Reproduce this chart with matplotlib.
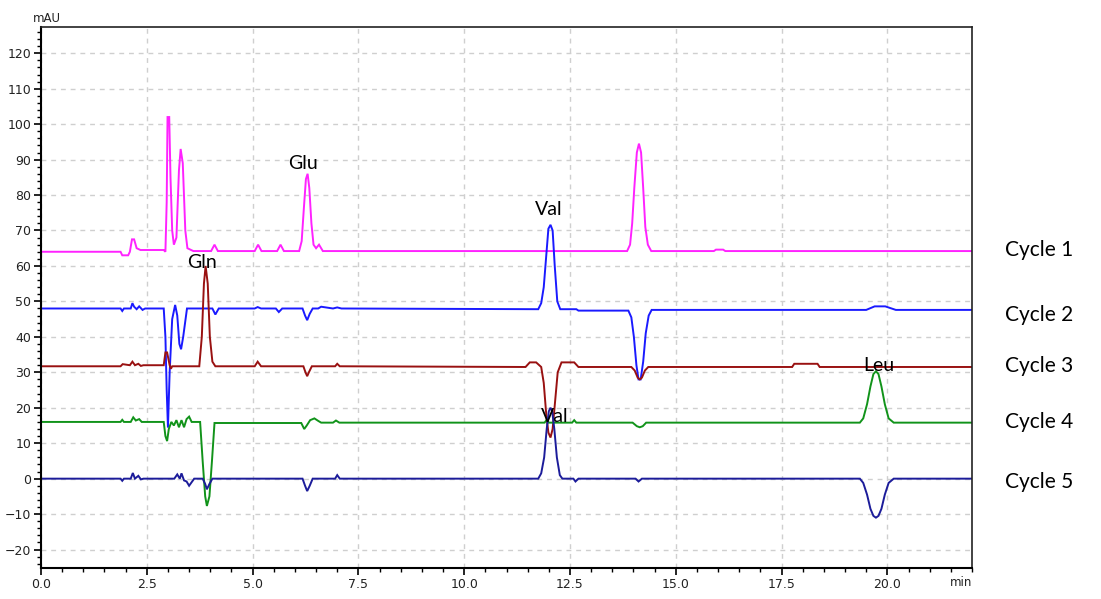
import numpy as np
import matplotlib
matplotlib.use("Agg")
import matplotlib.pyplot as plt
from matplotlib.ticker import MultipleLocator, FormatStrFormatter, FuncFormatter

# ---- data: chromatogram vertices (time in min, signal in mAU) ----
cycle1_t = [0, 1.88, 1.92, 2.06, 2.1, 2.15, 2.2, 2.26, 2.35, 2.9, 2.94, 2.97, 2.99, 3.03, 3.06, 3.1, 3.14,
            3.2, 3.26, 3.3, 3.35, 3.41, 3.46, 3.6, 4.02, 4.1, 4.18, 5.05, 5.13, 5.21, 5.58, 5.66, 5.74,
            6.1, 6.16, 6.21, 6.26, 6.3, 6.34, 6.39, 6.44, 6.5, 6.57, 6.66,
            13.85, 13.92, 13.97, 14.02, 14.08, 14.13, 14.18, 14.23, 14.28, 14.34, 14.42,
            15.9, 15.95, 16.12, 16.17, 22]
cycle1_v = [64, 64, 63, 63, 64, 67.5, 67.5, 65, 64.5, 64.5, 64, 78, 102, 102, 85, 70, 66,
            68, 87, 93, 89, 70, 65, 64.2, 64.2, 66, 64.2, 64.2, 66, 64.2, 64.2, 66, 64.2,
            64.2, 67, 76, 84.5, 86, 82, 72, 66, 65, 66, 64.2,
            64.2, 66, 72, 82, 92, 94.5, 92, 82, 71, 66, 64.2,
            64.2, 64.6, 64.6, 64.2, 64.2]

cycle2_t = [0, 1.88, 1.92, 1.96, 2.12, 2.16, 2.2, 2.26, 2.32, 2.4, 2.46, 2.9, 2.94, 2.97, 3.0, 3.04,
            3.1, 3.17, 3.22, 3.27, 3.31, 3.36, 3.45, 3.6, 4.05, 4.12, 4.2, 5.05, 5.12, 5.2, 5.55, 5.62,
            5.7, 6.18, 6.24, 6.29, 6.35, 6.42, 6.55, 6.62, 6.9, 7.0, 7.1,
            11.75, 11.82, 11.88, 11.94, 11.99, 12.04, 12.09, 12.14, 12.2, 12.27,
            12.65, 12.7, 13.88, 13.95, 14.01, 14.07, 14.12, 14.17, 14.23, 14.29, 14.36, 14.43, 19.5,
            19.7, 19.95, 20.2, 22]
cycle2_v = [48, 48, 47.3, 48, 48, 49.5, 48.5, 47.8, 48.6, 47.6, 48, 48, 40, 25, 14.4, 30,
            45, 49, 46, 38, 36.5, 40, 48, 48, 48, 46.3, 48, 48, 48.4, 48, 48, 47,
            48, 48, 46, 44.7, 46.5, 48, 48, 48.5, 48, 48.3, 48,
            47.8, 49.5, 54, 63, 70.5, 71.6, 70, 60, 50, 47.8,
            47.8, 47.4, 47.4, 45.5, 40, 32, 28, 28, 33, 41, 46, 47.6, 47.6,
            48.6, 48.6, 47.6, 47.6]

cycle3_t = [0, 1.88, 1.93, 2.1, 2.16, 2.22, 2.3, 2.36, 2.42, 2.9, 2.94, 2.98, 3.04, 3.07, 3.1, 3.74,
            3.8, 3.85, 3.89, 3.94, 3.99, 4.05, 4.12, 5.05, 5.12, 5.2, 6.2, 6.25, 6.29, 6.33, 6.4,
            6.95, 7.0, 7.06, 11.45, 11.55, 11.7, 11.82, 11.88, 11.94, 11.99, 12.04, 12.09, 12.15,
            12.21, 12.3, 12.6, 12.7, 13.95, 14.03, 14.1, 14.15, 14.2, 14.27, 14.35,
            17.75, 17.8, 18.35, 18.4, 22]
cycle3_v = [31.7, 31.7, 32.3, 32, 33, 32, 32.4, 31.8, 32, 32, 35.6, 35.6, 32, 31, 31.7, 31.7,
            40, 55, 60, 55, 40, 33, 31.7, 31.7, 33, 31.7, 31.7, 30, 28.9, 30, 31.7,
            31.7, 32.4, 31.7, 31.5, 32.8, 32.8, 31.5, 27, 18, 13, 11.6, 14, 22,
            30, 32.8, 32.8, 31.5, 31.5, 30.5, 28.5, 28, 28.5, 30.5, 31.5,
            31.5, 32.4, 32.4, 31.5, 31.5]

cycle4_t = [0, 1.88, 1.92, 1.96, 2.12, 2.18, 2.24, 2.32, 2.38, 2.44, 2.9, 2.94, 2.98, 3.02, 3.08,
            3.14, 3.2, 3.26, 3.32, 3.38, 3.44, 3.5, 3.56, 3.76, 3.82, 3.88, 3.92, 3.98, 4.04, 4.1,
            6.15, 6.22, 6.28, 6.36, 6.46, 6.55, 6.62, 6.9, 6.97, 7.05, 11.9, 11.95, 12.0, 12.55,
            12.6, 12.65, 13.98, 14.08, 14.15, 14.22, 14.3, 19.35, 19.43, 19.52, 19.6, 19.67,
            19.73, 19.79, 19.86, 19.94, 20.03, 20.15, 22]
cycle4_v = [16, 16, 16.6, 16, 16, 17.3, 16.4, 16.8, 16, 16, 16, 12, 10.6, 14, 16,
            15, 16.5, 14.5, 16.5, 14.5, 16.8, 17.5, 16, 16, 5, -5, -7.7, -5, 5, 15.7,
            15.7, 14, 15, 16.5, 17, 16.3, 15.8, 15.8, 16.4, 15.8, 15.8, 16.6, 15.8, 15.8,
            16.5, 15.8, 15.8, 14.8, 14.5, 14.8, 15.8, 15.8, 17, 21, 26, 29.5,
            30.3, 29.5, 26, 21, 17, 15.8, 15.8]

cycle5_t = [0, 1.88, 1.92, 1.96, 2.12, 2.17, 2.22, 2.3, 2.36, 2.42, 3.15, 3.22, 3.28, 3.32, 3.38,
            3.44, 3.5, 3.56, 3.62, 3.82, 3.88, 3.92, 3.98, 4.05, 4.1, 6.18, 6.24, 6.29, 6.35, 6.42,
            6.95, 7.0, 7.06, 11.75, 11.82, 11.89, 11.95, 12.0, 12.04, 12.08, 12.13, 12.19, 12.26,
            12.32, 12.58, 12.63, 12.7, 14.05, 14.12, 14.2, 19.35, 19.43, 19.52, 19.6, 19.67,
            19.73, 19.79, 19.86, 19.94, 20.03, 20.15, 22]
cycle5_v = [0, 0, -0.6, 0, 0, 1.6, 0, 0.8, -0.2, 0, 0, 1.2, 0, 1.5, -0.5,
            -0.8, -2, -1, 0, 0, -1.5, -3, -1.5, 0, 0, 0, -2, -3.5, -2, 0,
            0, 1, 0, 0, 1.5, 6, 14, 19, 20, 19, 14, 6, 1,
            0, 0, -0.8, 0, 0, -0.8, 0, 0, -1.2, -4.5, -8.5, -10.5,
            -11, -10.5, -8.5, -4.5, -1.2, 0, 0]

series_t = [cycle1_t, cycle2_t, cycle3_t, cycle4_t, cycle5_t]
series_v = [cycle1_v, cycle2_v, cycle3_v, cycle4_v, cycle5_v]
series_names = ["Cycle 1", "Cycle 2", "Cycle 3", "Cycle 4", "Cycle 5"]
series_colors = ["#ff22ff", "#1a1aff", "#991111", "#11931a", "#1c1c9a"]

peak_labels = ["Glu", "Gln", "Val", "Val", "Leu"]
peak_label_t = [6.2, 3.8, 12.0, 12.15, 19.8]
peak_label_v = [89, 61, 75.8, 17.5, 32]

legend_y_px = [250, 315, 366, 422, 482]

# ---- figure ----
fig = plt.figure(figsize=(11.01, 5.99), dpi=100)
ax = fig.add_axes([41 / 1101, 1 - 568 / 599, (972 - 41) / 1101, (568 - 27) / 599])

for t, v, c in zip(series_t, series_v, series_colors):
    ax.plot(t, v, color=c, lw=1.4, solid_joinstyle="miter")

ax.set_xlim(0, 22.0)
ax.set_ylim(-25.2, 127.4)

ax.xaxis.set_major_locator(MultipleLocator(2.5))
ax.xaxis.set_minor_locator(MultipleLocator(0.5))
ax.yaxis.set_major_locator(MultipleLocator(10))
ax.yaxis.set_minor_locator(MultipleLocator(2))
ax.xaxis.set_major_formatter(FormatStrFormatter("%.1f"))
ax.yaxis.set_major_formatter(FuncFormatter(lambda v, p: f"{int(round(v))}".replace("-", "\u2212")))

ax.grid(True, which="major", ls=(0, (3.5, 3.5)), color="#cfcfcf", lw=1)
ax.set_axisbelow(True)
for s in ["left", "bottom"]:
    ax.spines[s].set_linewidth(1.5)
for s in ["top", "right"]:
    ax.spines[s].set_linewidth(1.2)
    ax.spines[s].set_color("#222222")

ax.tick_params(which="major", direction="out", length=5, width=1.2, labelsize=9, pad=2)
ax.tick_params(which="minor", direction="out", length=3, width=1.0)
for lab in ax.get_xticklabels() + ax.get_yticklabels():
    lab.set_fontfamily("DejaVu Sans")
    lab.set_color("#222222")

fig.text(47 / 1101, 1 - 18 / 599, "mAU", fontsize=8.5, va="center", ha="center", color="#222222")
fig.text(961 / 1101, 1 - 582 / 599, "min", fontsize=8.5, va="center", ha="center", color="#222222")

for lab, t, v in zip(peak_labels, peak_label_t, peak_label_v):
    ax.text(t, v, lab, fontsize=14, family="Lato", ha="center", va="center", color="black")

for name, ypx in zip(series_names, legend_y_px):
    fig.text(1005 / 1101, 1 - ypx / 599, name, fontsize=15, family="Lato", ha="left", va="center", color="black")

fig.savefig("out.png", dpi=100)
